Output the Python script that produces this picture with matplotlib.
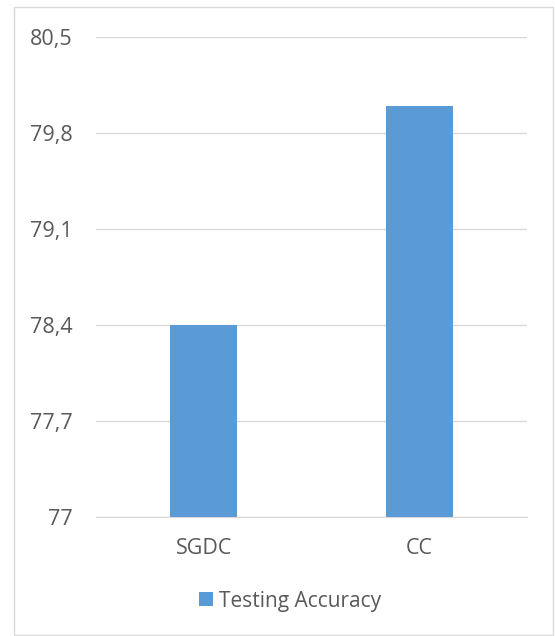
import matplotlib.pyplot as plt
from matplotlib.patches import Rectangle

# Data
models   = ["SGDC", "CC"]
accuracy = [78.4, 80.0]
yticks   = [77, 77.7, 78.4, 79.1, 79.8, 80.5]

bar_color  = "#5b9bd5"
grid_color = "#d9d9d9"
text_color = "#595959"

plt.rcParams["font.family"] = ["Open Sans", "DejaVu Sans"]

fig = plt.figure(figsize=(5.55, 6.36), dpi=100)
ax = fig.add_axes([96 / 555, 1 - 517 / 636, 431 / 555, 480 / 636])

ax.bar(range(len(models)), accuracy, width=0.31, color=bar_color, zorder=3,
       label="Testing Accuracy")
ax.set_xlim(-0.5, len(models) - 0.5)
ax.set_ylim(77, 80.5)
ax.set_yticks(yticks)
ax.set_yticklabels([str(v).replace(".", ",") if v != int(v) else str(int(v)) for v in yticks])
ax.set_xticks(range(len(models)))
ax.set_xticklabels(models)

ax.grid(axis="y", color=grid_color, linewidth=1, zorder=0)
for s in ["top", "right", "left"]:
    ax.spines[s].set_visible(False)
ax.spines["bottom"].set_color(grid_color)
ax.tick_params(length=0, labelsize=15.5, colors=text_color)
ax.tick_params(axis="y", pad=17)
ax.tick_params(axis="x", pad=15)

fig.legend(loc="center", bbox_to_anchor=(290 / 555, 1 - 601 / 636), frameon=False,
           fontsize=15, labelcolor=text_color, handlelength=0.65, handleheight=0.65,
           handletextpad=0.3)

# outer chart border
fig.patches.append(Rectangle((14 / 555, 1 / 636), 539 / 555, 628 / 636,
                             transform=fig.transFigure, fill=False,
                             edgecolor=grid_color, linewidth=1))

fig.savefig("out.png", dpi=100, facecolor="white")
